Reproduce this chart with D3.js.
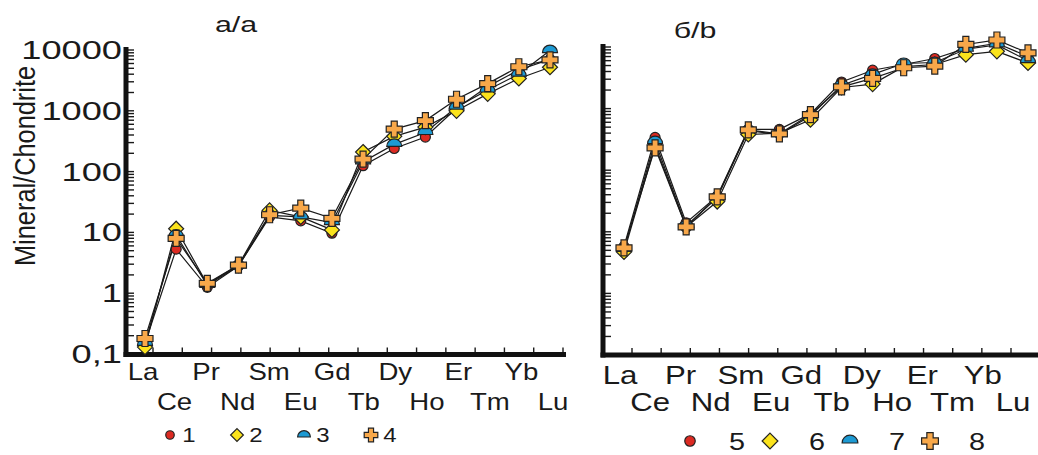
<!DOCTYPE html>
<html>
<head>
<meta charset="utf-8">
<script src="https://cdn.jsdelivr.net/npm/d3@7"></script>
<style>
  body { margin: 0; background: #fff; }
  svg { display: block; font-family: "Liberation Sans", Arial, sans-serif; }
</style>
</head>
<body>
<svg width="1038" height="455"></svg>
<script>
// REE elements (x axis)
var elements = ["La", "Ce", "Pr", "Nd", "Sm", "Eu", "Gd", "Tb", "Dy", "Ho", "Er", "Tm", "Yb", "Lu"];

// panel a/a, samples 1-4 (mineral / chondrite)
var s1 = [0.15, 5.3, 1.25, 2.8, 18, 15.5, 9.7, 125, 240, 370, 1100, 2500, 4700, 7000];
var s2 = [0.13, 11.5, 1.4, 2.9, 23, 18, 11, 210, 380, 540, 1000, 1900, 3400, 5200];
var s3 = [0.15, 9, 1.35, 2.8, 19, 18, 14.5, 145, 280, 440, 1150, 2200, 4000, 9800];
var s4 = [0.18, 8, 1.45, 2.9, 19.5, 25, 17, 160, 500, 690, 1550, 2800, 5300, 6900];

// panel б/b, samples 5-8
var s5 = [5.8, 340, 14, 38, 460, 460, 820, 2700, 4200, 5200, 6500, 9500, 11500, 7000];
var s6 = [4.7, 250, 12, 31, 380, 400, 660, 2200, 2500, 4800, 5200, 7500, 8500, 5500];
var s7 = [5.2, 290, 12.5, 36, 440, 380, 760, 2400, 3600, 5400, 5600, 9200, 10800, 6000];
var s8 = [5.5, 230, 12, 37, 450, 390, 800, 2250, 3100, 4600, 4900, 11000, 13000, 8000];

var yTicks = [0.1, 1, 10, 100, 1000, 10000];
var yTickLabels = ["0,1", "1", "10", "100", "1000", "10000"];
var legendA = ["1", "2", "3", "4"];
var legendB = ["5", "6", "7", "8"];
var markerTypes = ["circle", "diamond", "half", "plus"];
var markerFill = {circle: "#dc2a22", diamond: "#fbe31c", half: "#1d9ad3", plus: "#f8a84a"};

var svg = d3.select("svg");

// marker shapes, s = scale factor
function drawMarker(g, type, s) {
  s = s || 1;
  var p;
  if (type === "circle") {
    return g.append("circle").attr("r", 5 * s)
      .attr("fill", markerFill.circle).attr("stroke", "#222").attr("stroke-width", 1.2);
  }
  if (type === "diamond") {
    var d = 7.5 * s;
    p = "M0," + (-d) + "L" + d + ",0L0," + d + "L" + (-d) + ",0Z";
  } else if (type === "half") {
    var r = 7.5 * s;
    p = "M" + (-r) + ",2A" + r + "," + r + " 0 0 1 " + r + ",2Z";
  } else {
    var a = 8 * s, w = 3 * s;
    p = "M" + (-w) + "," + (-a) + "H" + w + "V" + (-w) + "H" + a + "V" + w + "H" + w + "V" + a +
        "H" + (-w) + "V" + w + "H" + (-a) + "V" + (-w) + "H" + (-w) + "Z";
  }
  return g.append("path").attr("d", p)
    .attr("fill", markerFill[type]).attr("stroke", "#222").attr("stroke-width", 1.2);
}

function panel(cfg) {
  var x = d3.scalePoint().domain(elements).range(cfg.xRange),
      xl = d3.scalePoint().domain(elements).range(cfg.labRange),
      y = d3.scaleLog().domain([0.1, 10000]).range(cfg.yRange),
      xt = d3.scaleLinear().domain([0, cfg.nTicks - 1]).range(cfg.tickRange);

  var g = svg.append("g");

  // y axis: thick line + log ticks on the inside
  var minor = [];
  for (var e = -1; e < 4; e++) for (var k = 1; k < 10; k++) minor.push(k * Math.pow(10, e));
  minor.push(10000);
  g.selectAll(".ytick").data(minor).enter().append("line")
    .attr("x1", cfg.axisX).attr("x2", cfg.axisX + 8)
    .attr("y1", function(d) { return y(d); }).attr("y2", function(d) { return y(d); })
    .attr("stroke", "#1a1a1a").attr("stroke-width", 1.4);
  g.append("line")
    .attr("x1", cfg.axisX).attr("x2", cfg.axisX)
    .attr("y1", cfg.yRange[1] - 3).attr("y2", cfg.axisY + 2.5)
    .attr("stroke", "#111").attr("stroke-width", 5);

  // x axis
  g.selectAll(".xtick").data(d3.range(cfg.nTicks)).enter().append("line")
    .attr("x1", function(d) { return xt(d); }).attr("x2", function(d) { return xt(d); })
    .attr("y1", cfg.axisY).attr("y2", cfg.axisY - 7)
    .attr("stroke", "#1a1a1a").attr("stroke-width", 1.4);
  g.append("line")
    .attr("x1", cfg.axisX - 2.5).attr("x2", cfg.axisEnd)
    .attr("y1", cfg.axisY).attr("y2", cfg.axisY)
    .attr("stroke", "#111").attr("stroke-width", 5);

  // element labels on two rows
  g.selectAll(".xlab").data(elements).enter().append("text")
    .attr("transform", function(d, i) {
      return "translate(" + xl(d) + "," + (i % 2 ? cfg.row2 : cfg.row1) + ") scale(" + cfg.labStretch + ",1)";
    })
    .attr("text-anchor", "middle")
    .attr("font-size", cfg.labSize)
    .attr("fill", "#1a1a1a")
    .text(function(d) { return d; });

  // lines (white casing under a thin black line)
  var line = d3.line()
    .x(function(d, i) { return x(elements[i]); })
    .y(function(d) { return y(d); });
  cfg.series.forEach(function(s) {
    g.append("path").attr("d", line(s)).attr("fill", "none")
      .attr("stroke", "#fff").attr("stroke-width", 3.6);
  });
  cfg.series.forEach(function(s) {
    g.append("path").attr("d", line(s)).attr("fill", "none")
      .attr("stroke", "#1a1a1a").attr("stroke-width", 1.2);
  });

  // markers
  cfg.series.forEach(function(s, si) {
    s.forEach(function(v, i) {
      var m = g.append("g").attr("transform", "translate(" + x(elements[i]) + "," + y(v) + ")");
      drawMarker(m, markerTypes[si], 1);
    });
  });

  // title
  g.append("text")
    .attr("transform", "translate(" + cfg.title[1] + "," + cfg.title[2] + ") scale(1.38,1)")
    .attr("text-anchor", "middle")
    .attr("font-size", 22)
    .attr("fill", "#1a1a1a")
    .text(cfg.title[0]);

  // legend
  cfg.legend.forEach(function(lab, i) {
    var lx = cfg.legX + i * cfg.legStep;
    var m = g.append("g").attr("transform", "translate(" + lx + "," + cfg.legY + ")");
    drawMarker(m, markerTypes[i], cfg.legScale);
    g.append("text")
      .attr("transform", "translate(" + (lx + cfg.legText) + "," + (cfg.legY + cfg.legBase) + ") scale(1.2,1)")
      .attr("text-anchor", "middle")
      .attr("font-size", cfg.legSize)
      .attr("fill", "#1a1a1a")
      .text(lab);
  });

  return y;
}

var yA = panel({
  xRange: [145, 550], labRange: [143, 553], yRange: [354, 50], tickRange: [153, 563], nTicks: 15,
  axisX: 126, axisY: 354.5, axisEnd: 566,
  row1: 380, row2: 410, labSize: 23, labStretch: 1.2,
  series: [s1, s2, s3, s4],
  title: ["a/a", 236, 32],
  legend: legendA, legX: 170, legY: 435, legStep: 67, legScale: 0.85,
  legText: 19, legBase: 7, legSize: 20
});

panel({
  xRange: [624, 1028], labRange: [620, 1013], yRange: [355, 47], tickRange: [632, 1011], nTicks: 14,
  axisX: 603, axisY: 355, axisEnd: 1038,
  row1: 384, row2: 411, labSize: 26, labStretch: 1.2,
  series: [s5, s6, s7, s8],
  title: ["б/b", 695, 38],
  legend: legendB, legX: 690, legY: 441, legStep: 80, legScale: 1.05,
  legText: 47, legBase: 9, legSize: 24
});

// y tick labels (left panel only)
svg.selectAll(".ylab").data(yTicks).enter().append("text")
  .attr("transform", function(d) { return "translate(122," + (yA(d) + 9) + ") scale(1.45,1)"; })
  .attr("text-anchor", "end")
  .attr("font-size", 25)
  .attr("fill", "#1a1a1a")
  .text(function(d, i) { return yTickLabels[i]; });

// y axis title
svg.append("text")
  .attr("transform", "translate(35,166) scale(1.16,1) rotate(-90)")
  .attr("text-anchor", "middle")
  .attr("font-size", 25)
  .attr("textLength", 200)
  .attr("lengthAdjust", "spacingAndGlyphs")
  .attr("fill", "#1a1a1a")
  .text("Mineral/Chondrite");
</script>
</body>
</html>
